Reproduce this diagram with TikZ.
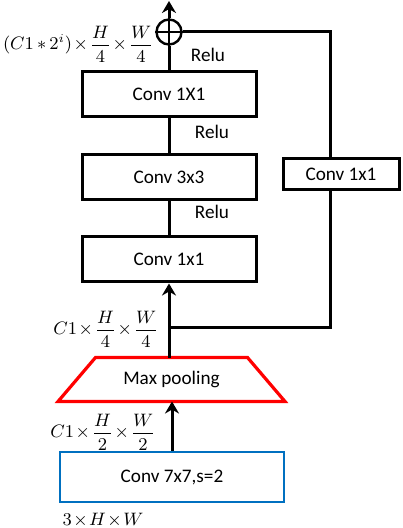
\documentclass[tikz,border=0pt]{standalone}
\usepackage{amsmath,amssymb}
\usepackage{fontspec}
\setmainfont{Carlito}
\usepackage{xcolor}
\usepackage{tikz}
\usetikzlibrary{arrows.meta,positioning}

\definecolor{poolred}{RGB}{255,0,0}
\definecolor{convblue}{RGB}{0,112,192}
\newcommand{\tight}{\medmuskip=1.5mu}

\begin{document}
\begin{tikzpicture}[
  x=0.5pt, y=-0.5pt,
  line width=1.5pt,
  >={Stealth[length=6pt,width=7pt]},
  box/.style={rectangle, draw, minimum width=87pt, minimum height=22.5pt, align=center, font=\fontsize{9.6}{11}\selectfont},
  sidebox/.style={box, minimum width=58pt, minimum height=15.5pt},
  pool/.style={rectangle, minimum width=74.5pt, minimum height=20.5pt, inner sep=0pt, font=\fontsize{9.6}{11}\selectfont},
  stem/.style={rectangle, draw=convblue, line width=1.3pt, minimum width=112pt, minimum height=25pt, font=\fontsize{9.6}{11}\selectfont},
  relu/.style={font=\fontsize{9.6}{11}\selectfont},
  dims/.style={font=\fontsize{9}{10}\selectfont, inner sep=0pt},
  sum/.style={circle, draw, minimum size=12.5pt, inner sep=0pt, line width=1.2pt}
]
\useasboundingbox (0,0) rectangle (402,528);

\node[box] (c1a) at (169,94) {Conv 1X1};
\node[box] (c3) at (169,177) {Conv 3x3};
\node[box] (c1b) at (169,259.5) {Conv 1x1};
\node[sidebox] (skip) at (341,174.5) {Conv 1x1};
\node[pool] (pool) at (171.5,379.5) {Max pooling};
\node[stem] (stem) at (172,477) {Conv 7x7,s=2};
\node[sum] (add) at (169,32) {};

\coordinate (out) at (169,1);
\coordinate (split) at (169,327);
\coordinate (lane) at (330,0);

% trapezoid round the pooling text
\draw[poolred, line width=1.6pt] (pool.north west) -- (pool.north east)
  -- ([xshift=18.75pt]pool.south east) -- ([xshift=-18.75pt]pool.south west) -- cycle;

% main path
\draw[->] (stem.north -| 172,0) -- (pool.south -| 172,0);
\draw (pool.north -| add) -- (split);
\draw[->] (split) -- (c1b.south);
\draw (c1b.north) -- (c3.south);
\draw (c3.north) -- (c1a.south);
\draw (c1a.north) -- (add.south);
\draw[line width=1.2pt] (add.north) -- (add.south);
\draw[line width=1.2pt] (add.west) -- (add.east);
\draw[->] (add.north) -- (out);

% shortcut
\draw (split) -- (split -| lane) -- (skip.south -| lane);
\draw (skip.north -| lane) -- (add -| lane) -- (add.east);

% labels
\node[relu] at (208,55) {Relu};
\node[relu] at (212,132) {Relu};
\node[relu] at (212,212) {Relu};
\node[dims, anchor=east] at (155,44) {$\tight(C1\,{\ast}\,2^{i})\times\dfrac{H}{4}\times\dfrac{W}{4}$};
\node[dims, anchor=east] at (160,329) {$\tight C1\times\dfrac{H}{4}\times\dfrac{W}{4}$};
\node[dims, anchor=east] at (157,432) {$\tight C1\times\dfrac{H}{2}\times\dfrac{W}{2}$};
\node[dims, anchor=west] at (61,520) {$\tight 3\times H\times W$};

\end{tikzpicture}
\end{document}
